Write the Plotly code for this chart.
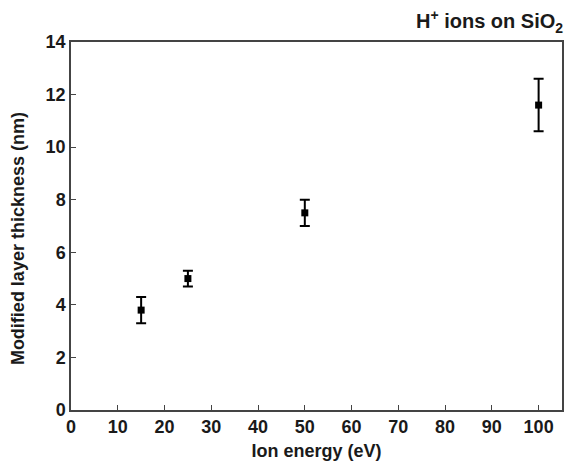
import plotly.graph_objects as go

# Modified layer thickness vs. ion energy for H+ on SiO2
ion_energy = [15, 25, 50, 100]
thickness = [3.8, 5.0, 7.5, 11.6]
thickness_err = [0.5, 0.3, 0.5, 1.0]

x_ticks = [0, 10, 20, 30, 40, 50, 60, 70, 80, 90, 100]
y_ticks = [0, 2, 4, 6, 8, 10, 12, 14]

font_family = "Liberation Sans, Arial, sans-serif"
text_color = "#1a1a1a"
tick_font = dict(family=font_family, size=18, color=text_color, weight="bold")
title_font = dict(family=font_family, size=18, color=text_color, weight="bold")

fig = go.Figure(
    go.Scatter(
        x=ion_energy,
        y=thickness,
        mode="markers",
        marker=dict(symbol="square", size=7, color="black"),
        error_y=dict(type="data", array=thickness_err, visible=True,
                     color="black", thickness=2, width=5),
        showlegend=False,
    )
)

axis_style = dict(
    showgrid=False,
    zeroline=False,
    showline=True,
    linecolor="#444444",
    linewidth=1.5,
    mirror=True,
    ticks="inside",
    ticklen=5,
    tickwidth=1.2,
    tickcolor="#444444",
)

fig.update_layout(
    width=567,
    height=471,
    margin=dict(l=71, r=3, t=42, b=61),
    paper_bgcolor="white",
    plot_bgcolor="white",
    xaxis=dict(
        range=[0, 105],
        tickmode="array",
        tickvals=x_ticks,
        tickfont=tick_font,
        title=dict(text="Ion energy (eV)", font=title_font, standoff=8),
        **axis_style,
    ),
    yaxis=dict(
        range=[0, 14],
        tickmode="array",
        tickvals=y_ticks,
        tickfont=tick_font,
        **axis_style,
    ),
)

# Y-axis title placed as a rotated annotation, sitting slightly below centre
fig.add_annotation(
    text="Modified layer thickness (nm)",
    xref="paper", yref="paper", x=-0.108, y=0.467,
    xanchor="center", yanchor="middle", textangle=-90,
    showarrow=False,
    font=title_font,
)

fig.add_annotation(
    text="H<sup>+</sup> ions on SiO<sub>2</sub>",
    xref="paper", yref="paper", x=1.0, y=1.0,
    xanchor="right", yanchor="bottom", yshift=4, xshift=3,
    showarrow=False,
    font=dict(family=font_family, size=20, color=text_color, weight="bold"),
)

fig.write_html("out.html")
